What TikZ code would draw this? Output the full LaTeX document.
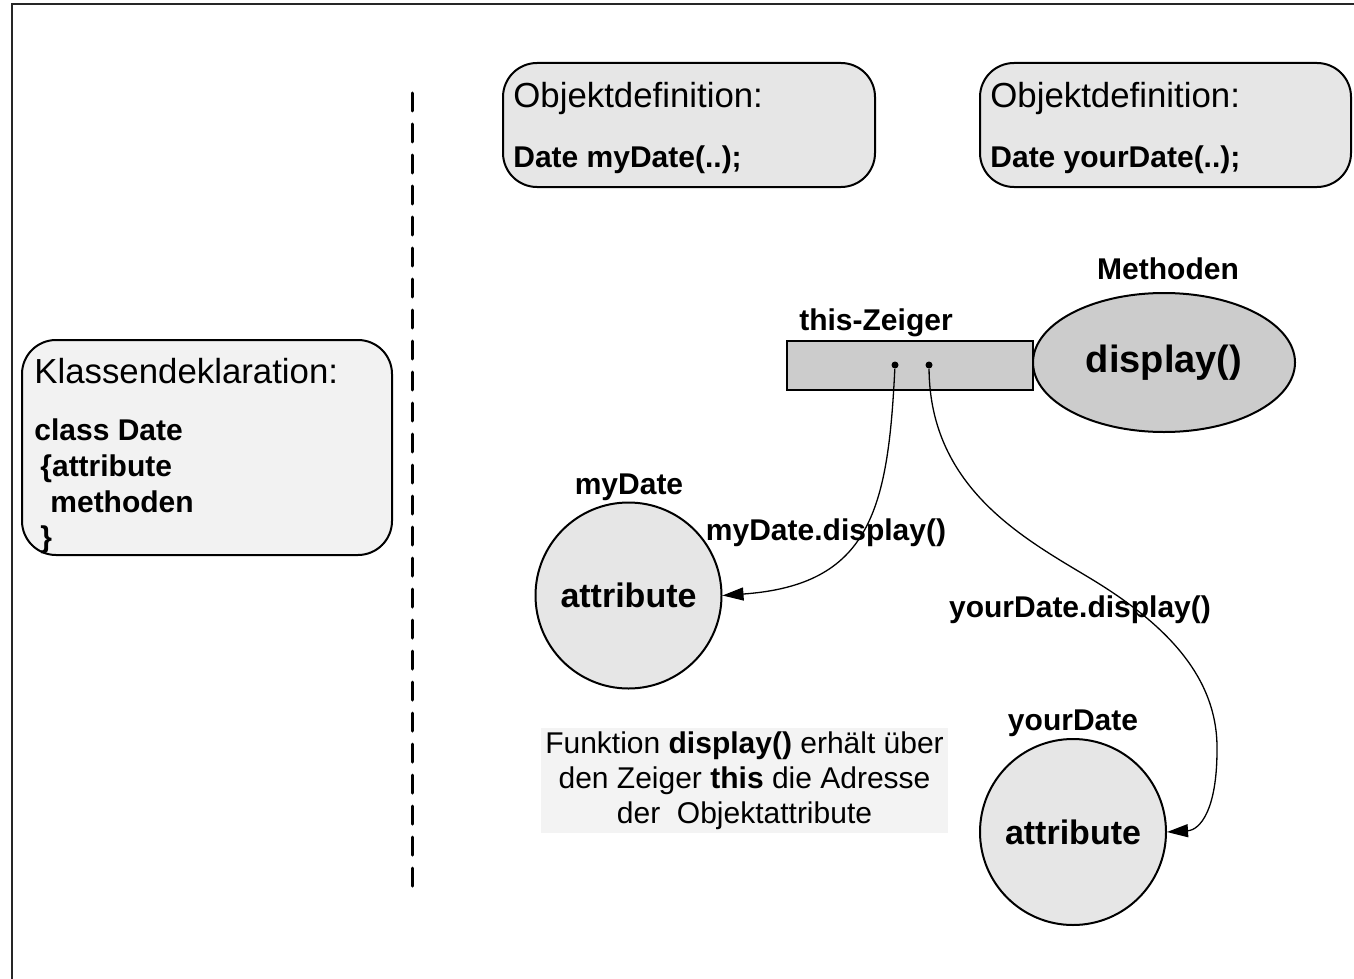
\documentclass[tikz,border=0pt]{standalone}
\usepackage{fontspec}
\setmainfont{Liberation Sans}
\usetikzlibrary{shapes.geometric,arrows.meta}

\definecolor{boxgray}{HTML}{E6E6E6}
\definecolor{classgray}{HTML}{F2F2F2}
\definecolor{darkfill}{HTML}{CCCCCC}
\definecolor{notegray}{HTML}{F3F3F3}

\tikzset{
  frame/.style={draw=black!85, line width=0.8pt},
  divider/.style={draw=black, line width=1.5pt, line cap=round, dash pattern=on 9pt off 6.5pt},
  roundbox/.style={draw=black, line width=1pt, rounded corners=17pt, inner sep=0pt},
  title/.style={anchor=base west, inner sep=0pt, font=\fontsize{17.4}{20}\selectfont},
  code/.style={anchor=base west, inner sep=0pt, font=\fontsize{15}{18}\selectfont\bfseries},
  tag/.style={anchor=base, inner sep=0pt, font=\fontsize{15}{18}\selectfont\bfseries},
  ptrbox/.style={draw=black, line width=1pt, fill=darkfill, minimum width=123pt, minimum height=24.5pt, inner sep=0pt},
  method/.style={ellipse, draw=black, line width=1pt, fill=darkfill, minimum width=131pt, minimum height=69.5pt, inner sep=0pt, font=\fontsize{19}{22}\selectfont\bfseries},
  attr/.style={circle, draw=black, line width=1pt, fill=boxgray, minimum size=93pt, inner sep=0pt, font=\fontsize{17}{20}\selectfont\bfseries},
  dot/.style={circle, fill=black, minimum size=3.5pt, inner sep=0pt},
  conn/.style={draw=black, line width=0.65pt, -{Triangle[length=10.5pt,width=6.5pt]}},
  note/.style={fill=notegray, align=center, inner sep=0pt, minimum width=203.5pt, minimum height=52.5pt, font=\fontsize{15}{17.5}\selectfont}
}

\begin{document}
\begin{tikzpicture}[x=0.5pt,y=-0.5pt]
\useasboundingbox (0,0) rectangle (1354,979);
\fill[white] (0,0) rectangle (1354,979);

% page frame and separator
\draw[frame] (12,979) -- (12,4) -- (1354,4);
\draw[divider] (412,93) -- (412,895);

% class declaration
\node[roundbox, fill=classgray, minimum width=185pt, minimum height=107.5pt] (cls) at (207,447.5) {};
\node[title] (clstitle) at (34,383) {Klassendeklaration:};
\node[code] (cl1) at (34,440) {class Date};
\node[code] (cl2) at (40,476) {\{attribute};
\node[code] (cl3) at (50,512) {methoden};
\node[code] (cl4) at (40,547) {\}};

% object definitions
\node[roundbox, fill=boxgray, minimum width=186pt, minimum height=62pt] (obj1) at (689,125) {};
\node[title] (obj1title) at (513,108) {Objektdefinition:};
\node[code] (obj1code) at (513,168) {Date myDate(..);};
\node[roundbox, fill=boxgray, minimum width=185.5pt, minimum height=62pt] (obj2) at (1165.5,125) {};
\node[title] (obj2title) at (990,108) {Objektdefinition:};
\node[code] (obj2code) at (990,168) {Date yourDate(..);};

% this pointer and method
\node[tag] (methlabel) at (1168,279) {Methoden};
\node[tag] (thislabel) at (876,330) {this-Zeiger};
\node[ptrbox] (ptr) at (910,365.5) {};
\node[method] (disp) at (1164,362.5) {display()};
\node[dot] (d1) at (895,365) {};
\node[dot] (d2) at (929,365) {};

% objects
\node[tag] (mylabel) at (629,494) {myDate};
\node[attr] (o1) at (628.5,595.5) {attribute};
\node[tag] (yourlabel) at (1073,730) {yourDate};
\node[attr] (o2) at (1073,832) {attribute};

% calls
\node[tag] (mycall) at (826,540) {myDate.display()};
\node[tag] (yourcall) at (1080,617) {yourDate.display()};

\coordinate (w1) at (1093,580);
\coordinate (w2) at (1217,750);
\draw[conn] (d1) .. controls (888,510) and (870,585) .. (o1.east);
\draw[conn] (d2) .. controls (930,490) and (1027,540) .. (w1)
                 .. controls (1170,627) and (1218,680) .. (w2)
                 .. controls (1217,810) and (1200,830) .. (o2.east);

% explanation
\node[note] (expl) at (744.5,780.5) {Funktion \textbf{display()} erhält über\\den Zeiger \textbf{this} die Adresse\\der\ \ Objektattribute};
\end{tikzpicture}
\end{document}
